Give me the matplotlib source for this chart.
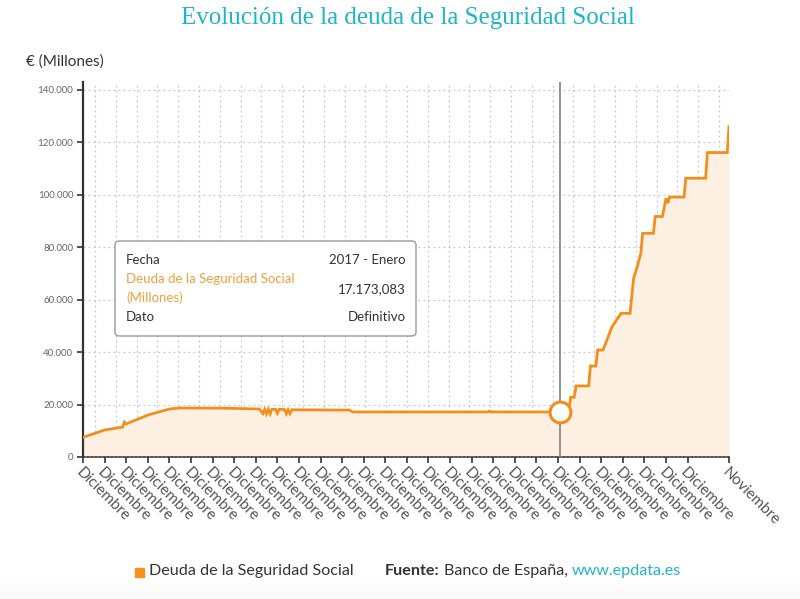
import numpy as np
import matplotlib
matplotlib.use("Agg")
import matplotlib.pyplot as plt
from matplotlib.patches import FancyBboxPatch, Rectangle
from matplotlib.ticker import FuncFormatter

plt.rcParams['font.family'] = ['Lato', 'DejaVu Sans']

# monthly readings (fecha YYYY-MM, deuda en millones de euros)
fechas = ["1994-12", "1995-12", "1996-10", "1996-11", "1996-12", "1997-12",
          "1998-12", "1999-06", "2001-08", "2003-02", "2003-04", "2003-05",
          "2003-06", "2003-07", "2003-08", "2003-09", "2003-11", "2003-12",
          "2004-01", "2004-04", "2004-05", "2004-06", "2004-07", "2004-08",
          "2007-04", "2007-06", "2013-09", "2013-10", "2013-11", "2017-01",
          "2017-06", "2017-07", "2017-09", "2017-10", "2018-05", "2018-06",
          "2018-09", "2018-10", "2019-01", "2019-06", "2019-11", "2020-04",
          "2020-06", "2020-08", "2020-10", "2020-11", "2021-05", "2021-06",
          "2021-10", "2021-12", "2022-01", "2022-02", "2022-10", "2022-11",
          "2023-10", "2023-11", "2024-10", "2024-11"]
deuda = [7500, 10300, 11400, 13300, 12600, 16000,
         18300, 18700, 18600, 18300, 16600, 18200,
         16500, 18200, 16500, 18200, 18200, 16700,
         18200, 18100, 16500, 18000, 16600, 18000,
         17900, 17173, 17173, 17500, 17173, 17173.083,
         17173, 22800, 22800, 27100, 27100, 34700,
         34700, 40800, 40800, 49700, 54800, 54800,
         68200, 72600, 77700, 85300, 85300, 91700,
         91700, 98700, 96800, 99100, 99100, 106300,
         106300, 116100, 116100, 126000]

tick_fechas = ["%d-12" % a for a in range(1994, 2023)] + ["2024-11"]
tick_labels = ["Diciembre"] * 29 + ["Noviembre"]
y_ticks = [0, 20000, 40000, 60000, 80000, 100000, 120000, 140000]

hover_fecha = "2017-01"
hover_valor = 17173.083


def mes(f):
    a, m = f.split("-")
    return (int(a) - 1994) * 12 + int(m) - 12


x = np.array([mes(f) for f in fechas])
y = np.array(deuda)

ORANGE = "#f28e1c"
TEAL = "#1fb5c6"

W, H = 800, 599
fig = plt.figure(figsize=(W / 100, H / 100), dpi=100)

# faint grey band at the very bottom
bg = fig.add_axes([0, 0, 1, 24 / H], zorder=-5)
bg.imshow(np.linspace(1.0, 0.98, 50).reshape(-1, 1), cmap="gray", vmin=0,
          vmax=1, aspect="auto", extent=[0, 1, 1, 0])
bg.axis("off")

ax = fig.add_axes([83 / W, 1 - 457 / H, 646 / W, 375 / H])

ax.fill_between(x, y, 0, color="#fdf0e2", lw=0, zorder=1)
ax.plot(x, y, color=ORANGE, lw=2.0, zorder=3, solid_joinstyle="miter")

ax.set_xlim(0, 359)
ax.set_ylim(0, 143000)

# grid
for v in y_ticks[1:]:
    ax.axhline(v, color="#c8c8c8", lw=0.9, ls=(0, (1.5, 2.5)), zorder=0)
for gx in np.linspace(6.7, 353.4, 31):
    ax.axvline(gx, color="#c8c8c8", lw=0.9, ls=(0, (1.5, 2.5)), zorder=0)

# crosshair + hover point
hx = mes(hover_fecha)
ax.axvline(hx, color="#8a8a8a", lw=1.3, zorder=4)
ax.plot([hx], [hover_valor], "o", ms=15, mfc="white", mec=ORANGE, mew=2.2,
        zorder=5)

for s in ["top", "right"]:
    ax.spines[s].set_visible(False)
ax.spines["left"].set_color("#333333")
ax.spines["left"].set_linewidth(1.6)
ax.spines["bottom"].set_color("#333333")
ax.spines["bottom"].set_linewidth(1.2)
ax.spines["bottom"].set_linestyle((0, (1.2, 1.2)))

ax.set_yticks(y_ticks)
ax.yaxis.set_major_formatter(FuncFormatter(lambda v, p: f"{v:,.0f}".replace(",", ".")))
ax.tick_params(axis="y", length=4, width=1.2, color="#333333", labelsize=7,
               labelcolor="#666666", pad=3)

ax.set_xticks([mes(f) for f in tick_fechas])
ax.set_xticklabels(tick_labels)
ax.tick_params(axis="x", length=4, width=1.2, color="#333333", labelsize=11,
               labelcolor="#555555", pad=2)
for lab in ax.get_xticklabels():
    lab.set_rotation(-45)
    lab.set_ha("left")
    lab.set_va("top")
    lab.set_rotation_mode("anchor")


def fx(px):
    return px / W


def fy(py):
    return 1 - py / H


# title and axis caption
fig.text(fx(408), fy(18), "Evolución de la deuda de la Seguridad Social",
         ha="center", va="center", color=TEAL, fontsize=18,
         family=["Liberation Serif", "DejaVu Serif"])
fig.text(fx(26), fy(62), "€ (Millones)", ha="left", va="center",
         color="#333333", fontsize=11)

# tooltip
box = FancyBboxPatch((fx(115), fy(336)), fx(416) - fx(115), fy(241) - fy(336),
                     boxstyle="round,pad=0,rounding_size=0.006",
                     transform=fig.transFigure, facecolor="white",
                     edgecolor="#9a9a9a", lw=1.0, zorder=10)
fig.patches.append(box)
tip = dict(fontsize=9.5, va="center", zorder=11)
fig.text(fx(126), fy(260), "Fecha", ha="left", color="#333333", **tip)
fig.text(fx(406), fy(260), "2017 - Enero", ha="right", color="#333333", **tip)
fig.text(fx(126), fy(279), "Deuda de la Seguridad Social", ha="left",
         color="#f0a03c", **tip)
fig.text(fx(126), fy(298), "(Millones)", ha="left", color="#f0a03c", **tip)
fig.text(fx(406), fy(289), "17.173,083", ha="right", color="#333333", **tip)
fig.text(fx(126), fy(317), "Dato", ha="left", color="#333333", **tip)
fig.text(fx(406), fy(317), "Definitivo", ha="right", color="#333333", **tip)

# legend / source
fig.patches.append(Rectangle((fx(135), fy(577)), fx(9), 9 / H,
                             transform=fig.transFigure, color="#f7901e"))
fig.text(fx(149), fy(571), "Deuda de la Seguridad Social", ha="left",
         va="center", color="#333333", fontsize=11.6)
t1 = fig.text(fx(385), fy(571), "Fuente:", ha="left", va="center",
              color="#333333", fontsize=11.6, weight="bold")
fig.canvas.draw()
r = fig.canvas.get_renderer()
bb = t1.get_window_extent(r)
t2 = fig.text(bb.x1 / W + fx(4), fy(571), "Banco de España,", ha="left",
              va="center", color="#333333", fontsize=11.6)
bb2 = t2.get_window_extent(r)
fig.text(bb2.x1 / W + fx(4), fy(571), "www.epdata.es", ha="left",
         va="center", color=TEAL, fontsize=11.6)

fig.savefig("out.png", dpi=100)
